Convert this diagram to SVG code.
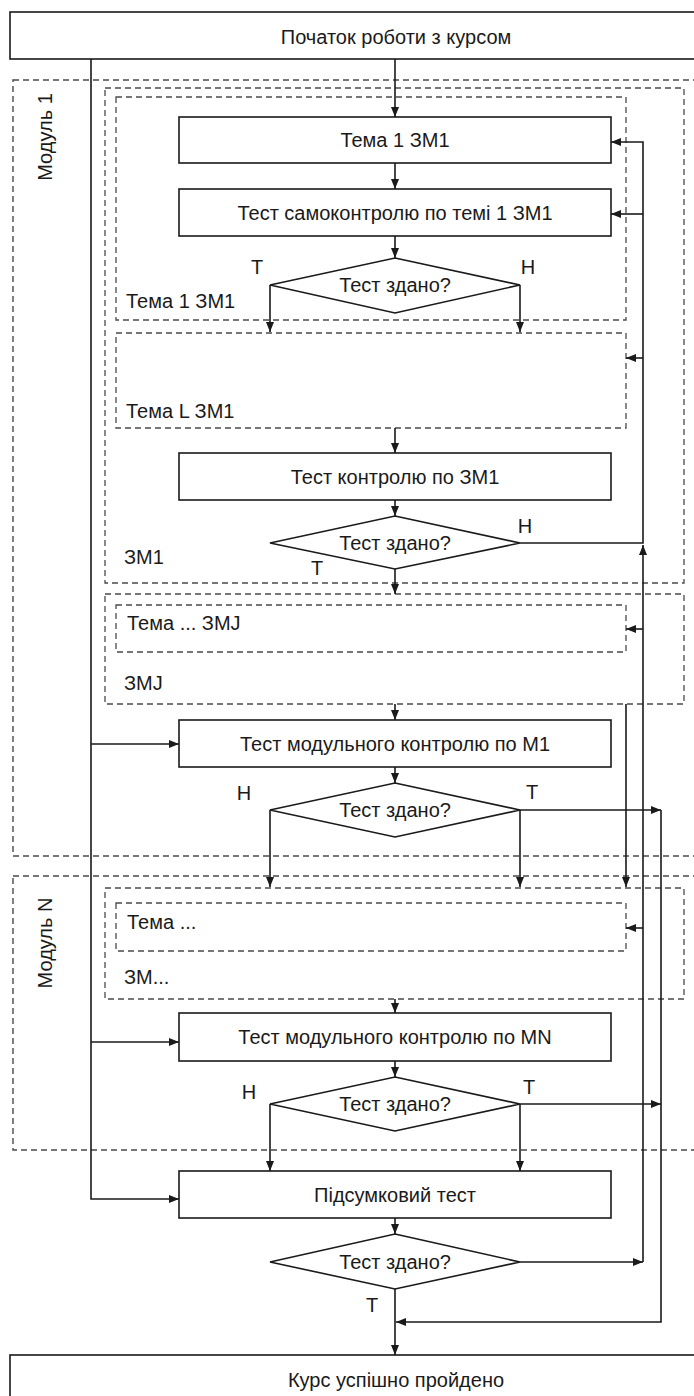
<svg xmlns="http://www.w3.org/2000/svg" width="694" height="1396" viewBox="0 0 694 1396">
<style>
.bg{fill:#fff}
.box{fill:#fff;stroke:#1a1a1a;stroke-width:1.6}
.dia{fill:#fff;stroke:#1a1a1a;stroke-width:1.6}
.grp{fill:none;stroke:#4a4a4a;stroke-width:1.4;stroke-dasharray:6 4}
.sub{fill:none;stroke:#4a4a4a;stroke-width:1.3;stroke-dasharray:6 4}
.t{font-family:"Liberation Sans",Arial,sans-serif;font-size:20px;fill:#1a1a1a}
.c{text-anchor:middle}
.con path{fill:none;stroke:#1a1a1a;stroke-width:1.6}
.ar{marker-end:url(#ah)}
</style>
<defs>
<marker id="ah" viewBox="0 0 10 8" refX="10" refY="4" markerWidth="11" markerHeight="8" orient="auto" markerUnits="userSpaceOnUse"><path d="M0,0 L10,4 L0,8 z" fill="#1a1a1a"/></marker>
</defs>
<rect class="bg" x="0" y="0" width="694" height="1396"/>

<g id="module1"><rect class="grp" x="13" y="80" width="700" height="776"/><text class="t c" transform="translate(52,137) rotate(-90)">Модуль 1</text></g>
<g id="moduleN"><rect class="grp" x="13" y="876" width="700" height="274"/><text class="t c" transform="translate(52,943) rotate(-90)">Модуль N</text></g>

<g id="zm1"><rect class="sub" x="105" y="88" width="579" height="495"/><text class="t" x="124" y="564">ЗМ1</text></g>
<g id="tema1zm1"><rect class="sub" x="116" y="97" width="510" height="223"/><text class="t" x="126" y="308">Тема 1 ЗМ1</text></g>
<g id="temaLzm1"><rect class="sub" x="116" y="333" width="510" height="95"/><text class="t" x="126" y="418">Тема L ЗМ1</text></g>
<g id="zmj"><rect class="sub" x="105" y="594" width="579" height="110"/><text class="t" x="124" y="690">ЗМJ</text></g>
<g id="temazmj"><rect class="sub" x="116" y="605" width="510" height="47"/><text class="t" x="127" y="630">Тема ... ЗМJ</text></g>
<g id="zmx"><rect class="sub" x="105" y="888" width="579" height="111"/><text class="t" x="124" y="984">ЗМ...</text></g>
<g id="temax"><rect class="sub" x="116" y="903" width="510" height="48"/><text class="t" x="127" y="929">Тема ...</text></g>

<g id="start"><rect class="box" x="10" y="12" width="700" height="47"/><text class="t c" x="396" y="44">Початок роботи з курсом</text></g>
<g id="tema1"><rect class="box" x="179" y="117" width="432" height="46"/><text class="t c" x="395" y="147">Тема 1 ЗМ1</text></g>
<g id="selftest"><rect class="box" x="179" y="189" width="432" height="47"/><text class="t c" x="395" y="220">Тест самоконтролю по темі 1 ЗМ1</text></g>
<g id="d1"><polygon class="dia" points="395,258 520,285 395,313 270,285"/><text class="t c" x="395" y="292">Тест здано?</text><text class="t c" x="257" y="274">Т</text><text class="t c" x="528" y="274">Н</text></g>
<g id="zmtest"><rect class="box" x="179" y="453" width="432" height="47"/><text class="t c" x="395" y="484">Тест контролю по ЗМ1</text></g>
<g id="d2"><polygon class="dia" points="395,516 520,543 395,569 270,543"/><text class="t c" x="395" y="550">Тест здано?</text><text class="t c" x="525" y="533">Н</text><text class="t c" x="317" y="575">Т</text></g>
<g id="m1test"><rect class="box" x="179" y="720" width="432" height="47"/><text class="t c" x="395" y="751">Тест модульного контролю по М1</text></g>
<g id="d3"><polygon class="dia" points="395,783 520,810 395,837 270,810"/><text class="t c" x="395" y="817">Тест здано?</text><text class="t c" x="244" y="800">Н</text><text class="t c" x="532" y="799">Т</text></g>
<g id="mntest"><rect class="box" x="179" y="1013" width="432" height="48"/><text class="t c" x="395" y="1044">Тест модульного контролю по MN</text></g>
<g id="d4"><polygon class="dia" points="395,1077 520,1104 395,1131 270,1104"/><text class="t c" x="395" y="1111">Тест здано?</text><text class="t c" x="249" y="1099">Н</text><text class="t c" x="529" y="1094">Т</text></g>
<g id="final"><rect class="box" x="179" y="1171" width="432" height="47"/><text class="t c" x="395" y="1202">Підсумковий тест</text></g>
<g id="d5"><polygon class="dia" points="395,1234 520,1262 395,1289 270,1262"/><text class="t c" x="395" y="1269">Тест здано?</text><text class="t c" x="372" y="1312">Т</text></g>
<g id="end"><rect class="box" x="10" y="1355" width="700" height="60"/><text class="t c" x="396" y="1387">Курс успішно пройдено</text></g>

<g id="connectors" class="con">
<path class="ar" d="M395,59 V117"/>
<path class="ar" d="M395,163 V189"/>
<path class="ar" d="M395,236 V258"/>
<path class="ar" d="M270,285 V332"/>
<path class="ar" d="M520,285 V332"/>
<path class="ar" d="M395,428 V453"/>
<path class="ar" d="M395,500 V516"/>
<path class="ar" d="M395,569 V594"/>
<path class="ar" d="M395,704 V720"/>
<path class="ar" d="M395,767 V783"/>
<path class="ar" d="M270,810 V887"/>
<path class="ar" d="M520,810 V887"/>
<path class="ar" d="M520,810 H661"/>
<path class="ar" d="M661,810 V1322 H396"/>
<path class="ar" d="M395,999 V1013"/>
<path class="ar" d="M395,1061 V1077"/>
<path class="ar" d="M270,1104 V1171"/>
<path class="ar" d="M520,1104 V1171"/>
<path class="ar" d="M520,1104 H661"/>
<path class="ar" d="M395,1218 V1234"/>
<path class="ar" d="M395,1289 V1355"/>
<path class="ar" d="M520,1262 H643"/>
<path class="ar" d="M643,1262 V545"/>
<path class="ar" d="M520,543 H643 V142 H611"/>
<path class="ar" d="M643,214 H611"/>
<path class="ar" d="M643,358 H626"/>
<path class="ar" d="M643,629 H626"/>
<path class="ar" d="M643,928 H626"/>
<path class="ar" d="M626,704 V887"/>
<path class="ar" d="M91,59 V1199 H179"/>
<path class="ar" d="M91,744 H179"/>
<path class="ar" d="M91,1042 H179"/>
</g>
</svg>
